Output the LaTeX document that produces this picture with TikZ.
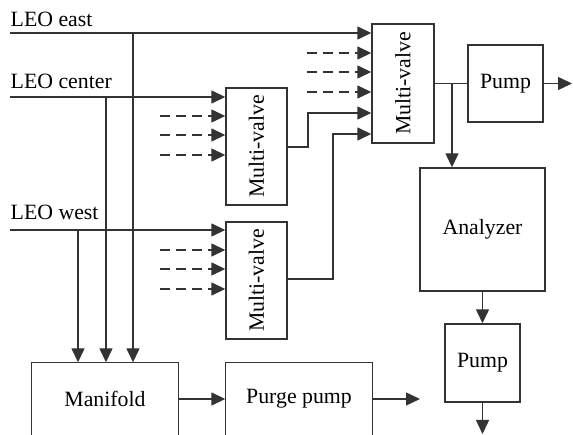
\documentclass[tikz,border=0pt]{standalone}
\usepackage{fontspec}
\setmainfont{Liberation Serif}
\usetikzlibrary{arrows.meta,calc}
\definecolor{ln}{HTML}{333333}
\begin{document}
\begin{tikzpicture}[x=1pt,y=-1pt,
  line width=1.4pt, draw=ln,
  every node/.style={font=\fontsize{21.8}{26}\selectfont, text=black},
  box/.style={draw=ln, line width=1.4pt, inner sep=0pt},
  arr/.style={-{Triangle[length=14pt,width=13pt]}},
  dsh/.style={arr, dash pattern=on 10pt off 6pt}]
\clip (0,0) rectangle (573,435);
% boxes
\node[box, minimum width=61, minimum height=117] (mv1) at (256.5,146.5) {\rotatebox{90}{Multi-valve}};
\node[box, minimum width=62, minimum height=119] (mv2) at (403,83.5) {\rotatebox{90}{Multi-valve}};
\node[box, minimum width=61, minimum height=117] (mv3) at (256.5,280.5) {\rotatebox{90}{Multi-valve}};
\node[box, minimum width=75, minimum height=77] (p1) at (505.5,83.5) {Pump};
\node[box, minimum width=125, minimum height=123] (an) at (482.5,229.5) {Analyzer};
\node[box, minimum width=75, minimum height=78] (p2) at (482.5,363) {Pump};
\node[box, draw=none, minimum width=146, minimum height=72] (man) at (105,399) {Manifold};
\node[box, draw=none, minimum width=146, minimum height=72] (pp) at (299,399) {Purge pump};
\draw (man.south west) -- (man.north west) -- (man.north east) -- (man.south east);
\draw (pp.south west) -- (pp.north west) -- (pp.north east) -- (pp.south east);
% labels
\node[anchor=base west, inner sep=0pt] (le) at (10,27) {LEO east};
\node[anchor=base west, inner sep=0pt] (lc) at (10,89) {LEO center};
\node[anchor=base west, inner sep=0pt] (lw) at (10,220) {LEO west};
% inlet coordinates
\coordinate (e0) at (10,33);
\coordinate (c0) at (10,97);
\coordinate (w0) at (10,230);
\coordinate (xe) at (133,0);
\coordinate (xc) at (106,0);
\coordinate (xw) at (78,0);
% LEO lines
\draw[arr] (e0) -- (e0 -| mv2.west);
\draw[arr] (c0) -- (c0 -| mv1.west);
\draw[arr] (w0) -- (w0 -| mv3.west);
\draw[arr] (xe |- e0) -- (xe |- man.north);
\draw[arr] (xc |- c0) -- (xc |- man.north);
\draw[arr] (xw |- w0) -- (xw |- man.north);
% dashed inputs
\foreach \y/\n in {116/a,135/b,155/c} {
  \coordinate (d1\n) at (160,\y);
  \draw[dsh] (d1\n) -- (d1\n -| mv1.west);
}
\foreach \y/\n in {250/a,269/b,289/c} {
  \coordinate (d3\n) at (160,\y);
  \draw[dsh] (d3\n) -- (d3\n -| mv3.west);
}
\foreach \y/\n in {53/a,72/b,92/c} {
  \coordinate (d2\n) at (307,\y);
  \draw[dsh] (d2\n) -- (d2\n -| mv2.west);
}
% multivalve outputs
\coordinate (m1o) at (287,147);
\coordinate (m3o) at (287,279);
\draw[arr] (m1o) -- (308,147) -- (308,113) -- (mv2.west |- 0,113);
\draw[arr] (m3o) -- (333,279) -- (333,134) -- (mv2.west |- 0,134);
% to pump and analyzer
\draw (mv2.east) -- (p1.west);
\coordinate (br) at (452,83.5);
\draw[arr] (br) -- (br |- an.north);
\coordinate (p1o) at (572,83.5);
\draw[arr] (p1.east) -- (p1o);
\draw[arr] (an.south -| p2.north) -- (p2.north);
\coordinate (p2o) at (482.5,434);
\draw[arr] (p2.south) -- (p2o);
\draw[arr] (man.east) -- (pp.west);
\coordinate (ppo) at (420,399);
\draw[arr] (pp.east) -- (ppo);
\end{tikzpicture}
\end{document}
